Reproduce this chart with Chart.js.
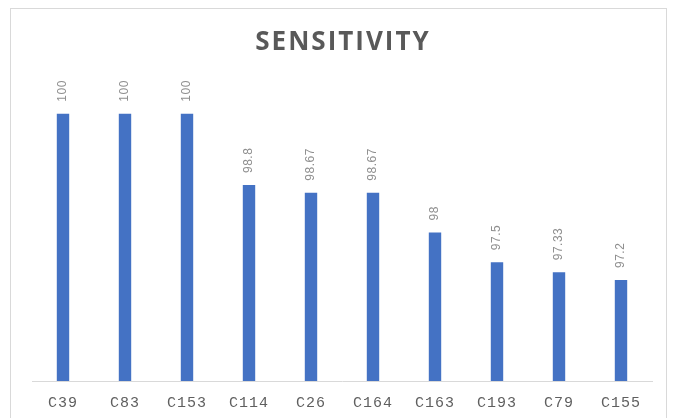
<!DOCTYPE html>
<html>
<head>
<meta charset="utf-8">
<script src="https://cdn.jsdelivr.net/npm/chart.js@4/dist/chart.umd.min.js"></script>
<style>
  html, body { margin: 0; padding: 0; background: #ffffff; }
  #wrap { position: relative; width: 679px; height: 418px; }
  #frame { position: absolute; left: 10px; top: 8px; width: 657px; height: 420px; border: 1px solid #d9d9d9; box-sizing: border-box; pointer-events: none; }
  canvas { position: absolute; left: 0; top: 0; }
</style>
</head>
<body>
<div id="wrap">
  <canvas id="c" width="679" height="418"></canvas>
  <div id="frame"></div>
</div>
<script>
const categories = ["C39", "C83", "C153", "C114", "C26", "C164", "C163", "C193", "C79", "C155"];
const sensitivity = [100, 100, 100, 98.8, 98.67, 98.67, 98, 97.5, 97.33, 97.2];
const chartTitle = "SENSITIVITY";

// letter spacing for ticks (Chart.js resets the context on resize, so set it at draw time)
const spacingPlugin = {
  id: 'spacing',
  beforeDraw(chart) { chart.ctx.letterSpacing = '1px'; },
  beforeDatasetsDraw(chart) { chart.ctx.letterSpacing = '0px'; },
  afterDatasetsDraw(chart) { chart.ctx.letterSpacing = '1px'; }
};

const titleSpacing = {
  id: 'titleSpacing',
  afterDraw(chart) {
    const ctx = chart.ctx;
    const area = chart.chartArea;
    ctx.save();
    ctx.letterSpacing = '2px';
    ctx.font = 'bold 26px "Open Sans", "Liberation Sans", sans-serif';
    ctx.fillStyle = '#595959';
    ctx.textAlign = 'center';
    ctx.textBaseline = 'middle';
    ctx.fillText(chartTitle, (area.left + area.right) / 2 + 1, 43);
    ctx.restore();
  }
};

const barLabels = {
  id: 'barLabels',
  afterDatasetsDraw(chart) {
    const ctx = chart.ctx;
    const meta = chart.getDatasetMeta(0);
    const data = chart.data.datasets[0].data;
    ctx.save();
    ctx.letterSpacing = '0.5px';
    ctx.font = '12px "Liberation Sans", "DejaVu Sans", sans-serif';
    ctx.fillStyle = '#8f8f8f';
    ctx.textAlign = 'left';
    ctx.textBaseline = 'middle';
    meta.data.forEach((bar, i) => {
      ctx.save();
      ctx.translate(bar.x, bar.y - 12);
      ctx.rotate(-Math.PI / 2);
      ctx.fillText(String(data[i]), 0, 0);
      ctx.restore();
    });
    ctx.restore();
  }
};

new Chart(document.getElementById('c'), {
  type: 'bar',
  data: {
    labels: categories,
    datasets: [{
      data: sensitivity,
      backgroundColor: '#4472C4',
      borderWidth: 0,
      categoryPercentage: 1,
      barPercentage: 0.2
    }]
  },
  options: {
    responsive: false,
    animation: false,
    events: [],
    layout: { padding: { left: 32, right: 27, top: 84, bottom: -7 } },
    plugins: {
      legend: { display: false },
      tooltip: { enabled: false },
      title: { display: false }
    },
    scales: {
      x: {
        offset: true,
        grid: { display: false, drawTicks: false },
        border: { display: true, color: '#d9d9d9', width: 1 },
        ticks: {
          color: '#5f5f5f',
          padding: 13,
          maxRotation: 0,
          autoSkip: false,
          font: { family: '"Liberation Mono", "DejaVu Sans Mono", monospace', size: 15, lineHeight: 1.2 }
        }
      },
      y: {
        display: false,
        min: 95.5,
        max: 100.5
      }
    }
  },
  plugins: [spacingPlugin, titleSpacing, barLabels]
});
</script>
</body>
</html>
